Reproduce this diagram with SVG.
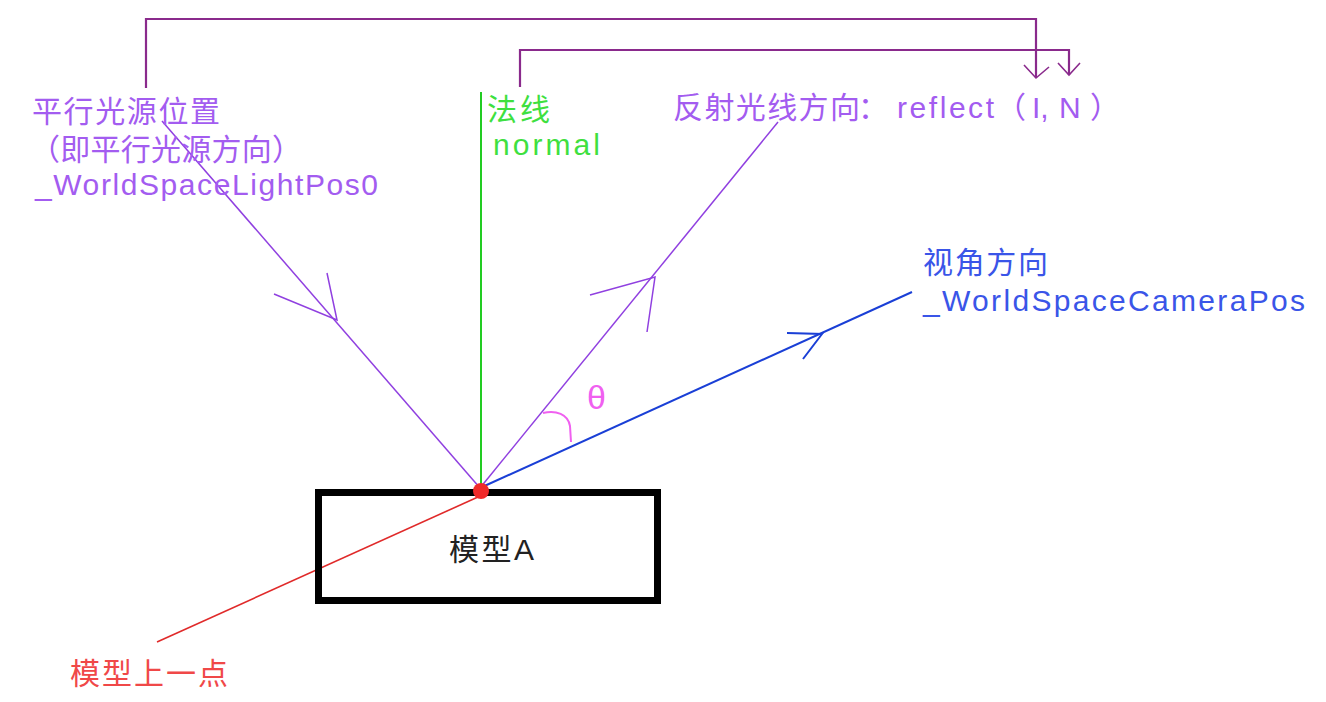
<svg xmlns="http://www.w3.org/2000/svg" width="1326" height="702" viewBox="0 0 1326 702">
<style>
text{font-family:"Liberation Sans","Noto Sans CJK SC",sans-serif;font-size:30px}
.pt{fill:#a35cf0}
.gt{fill:#3fe03f}
.bt{fill:#3a55e8}
.rt{fill:#f04848}
.kt{fill:#222}
.pl{stroke:#9040e0;stroke-width:1.5;fill:none}
.tl{stroke:#8a2a8c;stroke-width:2.2;fill:none}
.ta{stroke:#8a2a8c;stroke-width:1.6;fill:none}
.bl{stroke:#1a3fd6;stroke-width:2;fill:none}
.rl{stroke:#e02a2a;stroke-width:1.6;fill:none}
.gl{stroke:#22cc22;stroke-width:2;fill:none}
</style>
<rect width="1326" height="702" fill="#fff"/>
<g id="connectors">
  <polyline class="tl" points="146,88 146,19 1036,19 1036,78"/>
  <polyline class="ta" points="1024,65 1036,78 1049,67"/>
  <polyline class="tl" points="520,87 520,50 1069,50 1069,75"/>
  <polyline class="ta" points="1058,63 1069,75 1080,63"/>
  <line class="gl" x1="481" y1="92" x2="481" y2="488"/>
  <line class="pl" x1="162" y1="121" x2="480" y2="488"/>
  <polyline class="pl" points="327,273 337,320 274,294"/>
  <line class="pl" x1="480" y1="488" x2="778" y2="122"/>
  <polyline class="pl" points="590,295 655,277 647,332"/>
  <line class="bl" x1="480" y1="488" x2="912" y2="292"/>
  <polyline class="bl" points="787,333 822,334 803,359"/>
  <line class="rl" x1="478" y1="497" x2="157" y2="642"/>
  <path d="M543,413 C556,410 568,414 570,426 L571,442" stroke="#f060f0" stroke-width="2" fill="none"/>
</g>
<g id="modelA">
  <rect x="318.5" y="492.5" width="339" height="108" fill="none" stroke="#000" stroke-width="7"/>
  <text class="kt" x="449" y="560" textLength="85">模型A</text>
</g>
<g id="point">
  <circle cx="481" cy="491" r="8" fill="#f02a2a"/>
</g>
<g id="point-label">
  <text class="rt" x="70" y="684" textLength="158">模型上一点</text>
</g>
<g id="light">
  <text class="pt" x="32" y="122" textLength="188">平行光源位置</text>
  <text class="pt" x="30" y="160" textLength="272">（即平行光源方向）</text>
  <text class="pt" x="35" y="195" textLength="343">_WorldSpaceLightPos0</text>
</g>
<g id="normal">
  <text class="gt" x="487" y="120" textLength="63">法线</text>
  <text class="gt" x="493" y="155" textLength="107">normal</text>
</g>
<g id="reflect">
  <text class="pt" y="118"><tspan x="673" textLength="187">反射光线方向</tspan><tspan x="858">：</tspan><tspan x="897" textLength="97">reflect</tspan><tspan x="996">（</tspan><tspan x="1032">I,</tspan><tspan x="1059">N</tspan><tspan x="1090">）</tspan></text>
</g>
<g id="view">
  <text class="bt" x="923" y="273" textLength="125">视角方向</text>
  <text class="bt" x="923" y="311" textLength="382">_WorldSpaceCameraPos</text>
</g>
<g id="theta">
  <text x="587" y="409" style="fill:#f060f0;font-size:34px">θ</text>
</g>
</svg>
